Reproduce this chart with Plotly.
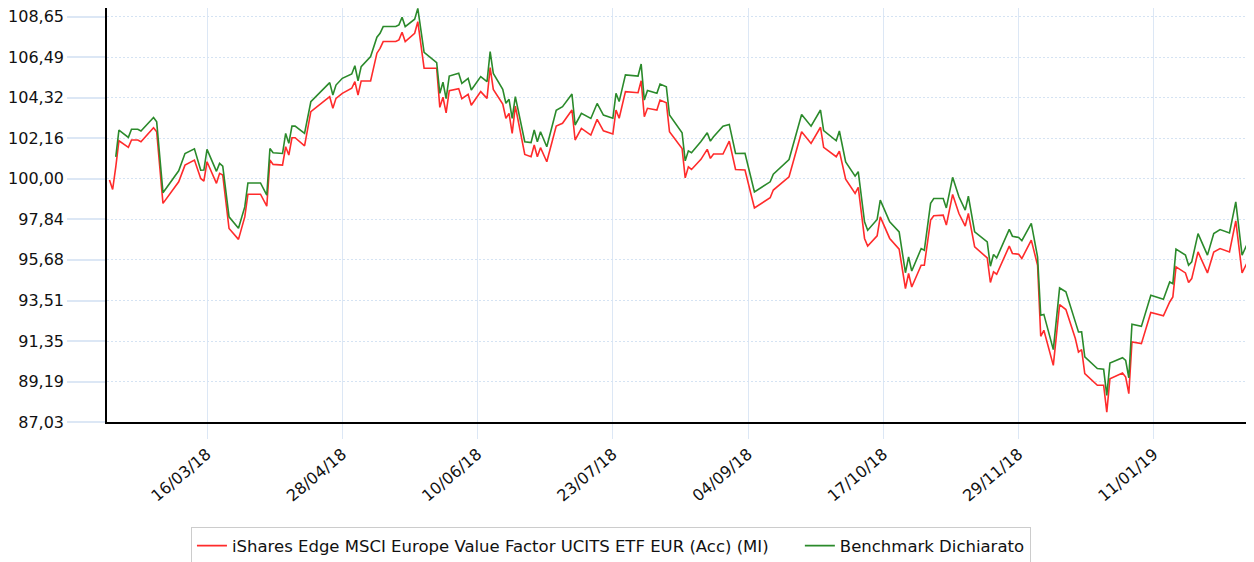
import plotly.graph_objects as go

dates = [
    "2018-02-13", "2018-02-14", "2018-02-15", "2018-02-16", "2018-02-19", "2018-02-20", "2018-02-22", "2018-02-23",
    "2018-02-27", "2018-02-28", "2018-03-02", "2018-03-07", "2018-03-09", "2018-03-12", "2018-03-14", "2018-03-15",
    "2018-03-16", "2018-03-19", "2018-03-20", "2018-03-21", "2018-03-23", "2018-03-26", "2018-03-28", "2018-03-29",
    "2018-04-02", "2018-04-04", "2018-04-05", "2018-04-06", "2018-04-09", "2018-04-10", "2018-04-11", "2018-04-12",
    "2018-04-13", "2018-04-16", "2018-04-18", "2018-04-20", "2018-04-24", "2018-04-25", "2018-04-26", "2018-04-28",
    "2018-05-01", "2018-05-02", "2018-05-03", "2018-05-04", "2018-05-07", "2018-05-09", "2018-05-10", "2018-05-11",
    "2018-05-15", "2018-05-16", "2018-05-17", "2018-05-18", "2018-05-21", "2018-05-22", "2018-05-24", "2018-05-28",
    "2018-05-29", "2018-05-30", "2018-05-31", "2018-06-01", "2018-06-04", "2018-06-05", "2018-06-07", "2018-06-08",
    "2018-06-11", "2018-06-13", "2018-06-14", "2018-06-15", "2018-06-18", "2018-06-19", "2018-06-20", "2018-06-21",
    "2018-06-22", "2018-06-25", "2018-06-27", "2018-06-28", "2018-06-29", "2018-06-30", "2018-07-02", "2018-07-05",
    "2018-07-07", "2018-07-10", "2018-07-11", "2018-07-13", "2018-07-16", "2018-07-18", "2018-07-20", "2018-07-23",
    "2018-07-24", "2018-07-25", "2018-07-27", "2018-07-31", "2018-08-01", "2018-08-02", "2018-08-03", "2018-08-06",
    "2018-08-07", "2018-08-09", "2018-08-10", "2018-08-14", "2018-08-15", "2018-08-16", "2018-08-17", "2018-08-20",
    "2018-08-22", "2018-08-23", "2018-08-24", "2018-08-27", "2018-08-29", "2018-08-31", "2018-09-03", "2018-09-06",
    "2018-09-11", "2018-09-12", "2018-09-17", "2018-09-21", "2018-09-24", "2018-09-27", "2018-09-28", "2018-10-02",
    "2018-10-03", "2018-10-05", "2018-10-08", "2018-10-09", "2018-10-11", "2018-10-12", "2018-10-15", "2018-10-16",
    "2018-10-19", "2018-10-22", "2018-10-24", "2018-10-25", "2018-10-26", "2018-10-29", "2018-10-30", "2018-11-01",
    "2018-11-02", "2018-11-05", "2018-11-06", "2018-11-08", "2018-11-10", "2018-11-12", "2018-11-13", "2018-11-15",
    "2018-11-19", "2018-11-20", "2018-11-21", "2018-11-22", "2018-11-26", "2018-11-27", "2018-11-29", "2018-11-30",
    "2018-12-03", "2018-12-05", "2018-12-06", "2018-12-07", "2018-12-10", "2018-12-12", "2018-12-14", "2018-12-17",
    "2018-12-18", "2018-12-19", "2018-12-20", "2018-12-24", "2018-12-26", "2018-12-27", "2018-12-28", "2019-01-01",
    "2019-01-02", "2019-01-03", "2019-01-04", "2019-01-07", "2019-01-10", "2019-01-14", "2019-01-16", "2019-01-17",
    "2019-01-18", "2019-01-21", "2019-01-22", "2019-01-23", "2019-01-25", "2019-01-28", "2019-01-30", "2019-02-01",
    "2019-02-04", "2019-02-06", "2019-02-08", "2019-02-11",
]

etf_values = [
    99.93, 99.43, 100.64, 102.03, 101.68, 102.07, 102.07, 101.98,
    102.72, 102.51, 98.69, 99.84, 100.73, 101.00, 100.02, 99.88,
    100.91, 99.76, 100.29, 100.20, 97.35, 96.77, 97.97, 99.18,
    99.18, 98.54, 101.00, 100.77, 100.73, 101.71, 101.27, 102.19,
    102.19, 101.76, 103.58, 103.84, 104.38, 103.76, 104.29, 104.56,
    104.83, 105.18, 104.47, 105.22, 105.22, 106.70, 106.96, 107.32,
    107.32, 107.41, 107.82, 107.32, 107.76, 108.38, 105.90, 105.90,
    103.81, 104.35, 103.52, 104.70, 104.81, 104.27, 104.51, 103.92,
    104.65, 104.29, 105.93, 104.77, 103.99, 103.23, 103.49, 102.42,
    103.88, 101.30, 101.18, 101.80, 101.18, 101.66, 100.91, 102.81,
    102.96, 103.67, 102.07, 102.69, 102.33, 103.17, 102.56, 102.39,
    103.67, 103.23, 104.65, 104.59, 105.23, 103.31, 103.76, 103.67,
    104.20, 104.06, 102.51, 101.62, 100.05, 100.64, 100.50, 101.04,
    101.57, 101.09, 101.32, 101.32, 102.01, 100.50, 100.47, 98.45,
    98.99, 99.40, 100.11, 102.51, 101.89, 102.75, 101.68, 101.18,
    101.48, 99.98, 99.22, 99.54, 96.82, 96.41, 96.96, 97.97,
    96.82, 96.25, 94.15, 94.95, 94.23, 95.39, 95.39, 97.80,
    98.03, 98.06, 97.53, 99.17, 98.15, 97.48, 98.15, 96.37,
    95.78, 94.47, 95.04, 94.91, 96.41, 96.02, 95.98, 95.75,
    96.73, 95.39, 91.60, 91.92, 90.05, 93.29, 93.03, 91.48,
    90.76, 90.89, 89.61, 88.99, 88.99, 87.56, 89.34, 89.64,
    89.43, 88.54, 91.30, 91.21, 92.87, 92.69, 93.43, 93.70,
    95.30, 94.98, 94.47, 94.68, 96.10, 94.98, 96.10, 96.28,
    96.10, 97.76, 94.98, 96.00,
]

benchmark_values = [
    None, None, 101.17, 102.60, 102.21, 102.64, 102.64, 102.55,
    103.27, 103.04, 99.26, 100.43, 101.35, 101.60, 100.46, 100.47,
    101.57, 100.40, 100.82, 100.68, 97.97, 97.36, 98.50, 99.78,
    99.78, 99.13, 101.62, 101.39, 101.35, 102.42, 101.89, 102.81,
    102.81, 102.42, 104.11, 104.46, 105.13, 104.47, 105.00, 105.36,
    105.59, 106.03, 105.23, 105.98, 106.52, 107.55, 107.76, 108.12,
    108.12, 108.21, 108.62, 108.12, 108.51, 109.09, 106.74, 106.20,
    104.56, 105.15, 104.28, 105.48, 105.63, 105.09, 105.36, 104.74,
    105.45, 105.18, 106.78, 105.62, 104.77, 104.03, 104.24, 103.22,
    104.38, 101.98, 101.93, 102.60, 101.98, 102.51, 101.71, 103.66,
    103.85, 104.52, 102.87, 103.49, 103.22, 104.02, 103.40, 103.23,
    104.56, 104.12, 105.54, 105.48, 106.12, 104.20, 104.71, 104.56,
    105.05, 104.91, 103.40, 102.46, 100.96, 101.49, 101.39, 101.99,
    102.46, 102.01, 102.24, 102.81, 102.90, 101.35, 101.36, 99.30,
    99.84, 100.25, 101.03, 103.43, 102.81, 103.67, 102.57, 102.03,
    102.55, 100.90, 100.14, 100.38, 97.71, 97.26, 97.83, 98.86,
    97.71, 97.17, 94.99, 95.84, 95.08, 96.28, 96.19, 98.69,
    98.95, 98.95, 98.45, 100.08, 99.04, 98.33, 99.07, 97.17,
    96.63, 95.34, 95.96, 95.78, 97.30, 96.94, 96.87, 96.70,
    97.62, 95.83, 92.72, 92.77, 90.89, 94.18, 93.98, 92.37,
    91.83, 91.84, 90.50, 89.88, 89.84, 88.45, 90.18, 90.46,
    90.32, 89.39, 92.25, 92.13, 93.79, 93.58, 94.50, 94.41,
    96.25, 95.93, 95.39, 95.57, 97.08, 95.93, 97.08, 97.29,
    97.11, 98.77, 95.93, 97.01,
]

x_tick_dates = ["2018-03-16", "2018-04-28", "2018-06-10", "2018-07-23",
                "2018-09-04", "2018-10-17", "2018-11-29", "2019-01-11"]
x_tick_labels = ["16/03/18", "28/04/18", "10/06/18", "23/07/18",
                 "04/09/18", "17/10/18", "29/11/18", "11/01/19"]
y_tick_values = [87.03, 89.19, 91.35, 93.51, 95.68, 97.84, 100.00, 102.16, 104.32, 106.49, 108.65]
y_tick_labels = ["87,03", "89,19", "91,35", "93,51", "95,68", "97,84", "100,00",
                 "102,16", "104,32", "106,49", "108,65"]

series_names = ["iShares Edge MSCI Europe Value Factor UCITS ETF EUR (Acc) (MI)", "Benchmark Dichiarato"]

FONT = "DejaVu Sans, Verdana, sans-serif"
TEXT_COLOR = "#111111"

fig = go.Figure()
fig.add_trace(go.Scatter(x=dates, y=etf_values, mode="lines",
                         name=series_names[0] + "\u00a0" * 5,
                         line=dict(color="#ff2b2b", width=1.6)))
fig.add_trace(go.Scatter(x=dates, y=benchmark_values, mode="lines",
                         name=series_names[1],
                         line=dict(color="#2b8a2b", width=1.6)))

# The page body has an 8px default margin, so the figure is sized to the visible area.
fig.update_layout(
    width=1246, height=554, autosize=False,
    margin=dict(l=99, r=0, t=0, b=140, autoexpand=False),
    paper_bgcolor="white", plot_bgcolor="white",
    font=dict(family=FONT, size=16, color=TEXT_COLOR),
    showlegend=True,
    legend=dict(orientation="h", x=0.0732, xanchor="left", y=-0.2545, yanchor="top",
                bordercolor="#cccccc", borderwidth=1, bgcolor="white",
                font=dict(family=FONT, size=16.5, color=TEXT_COLOR),
                itemwidth=30),
    xaxis=dict(
        type="date",
        automargin=False,
        range=["2018-02-12 05:00", "2019-02-11 19:00"],
        tickmode="array", tickvals=x_tick_dates, ticktext=x_tick_labels,
        tickangle=-40,
        ticks="outside", ticklen=15, tickcolor="#dce7f5", tickwidth=1,
        showgrid=True, gridcolor="#dce7f5", gridwidth=1,
        showline=True, linecolor="#000000", linewidth=1.5,
        zeroline=False,
        tickfont=dict(family=FONT, size=16, color=TEXT_COLOR),
        ticklabeloverflow="allow",
    ),
    yaxis=dict(
        automargin=False,
        range=[87.03, 109.11],
        tickmode="array", tickvals=y_tick_values, ticktext=y_tick_labels,
        ticks="outside", ticklen=38, tickcolor="#dce7f5", tickwidth=2,
        showgrid=True, gridcolor="#d5e3f3", gridwidth=1, griddash="2px,2px",
        showline=True, linecolor="#000000", linewidth=1.5,
        zeroline=False,
        tickfont=dict(family=FONT, size=16, color=TEXT_COLOR),
        ticklabeloverflow="allow",
    ),
)

fig.write_html("out.html")
